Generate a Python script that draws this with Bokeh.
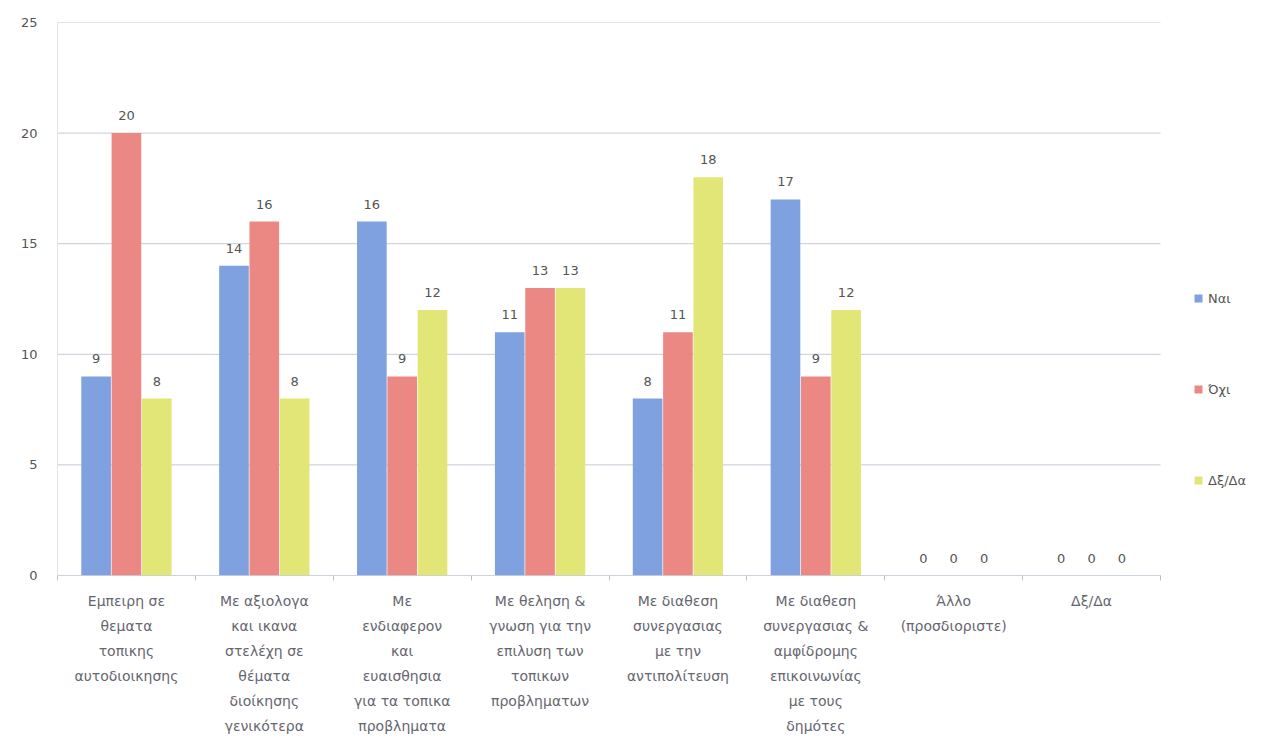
from bokeh.plotting import figure
from bokeh.models import ColumnDataSource, Range1d, FixedTicker, Legend, LegendItem, LinearAxis
from bokeh.embed import file_html
from bokeh.resources import INLINE
from bokeh.core.properties import value

categories = [
    "Εμπειρη σε\nθεματα\nτοπικης\nαυτοδιοικησης",
    "Με αξιολογα\nκαι ικανα\nστελέχη σε\nθέματα\nδιοίκησης\nγενικότερα",
    "Με\nενδιαφερον\nκαι\nευαισθησια\nγια τα τοπικα\nπροβληματα",
    "Με θεληση &\nγνωση για την\nεπιλυση των\nτοπικων\nπροβληματων",
    "Με διαθεση\nσυνεργασιας\nμε την\nαντιπολίτευση",
    "Με διαθεση\nσυνεργασιας &\nαμφίδρομης\nεπικοινωνίας\nμε τους\nδημότες",
    "Άλλο\n(προσδιοριστε)",
    "Δξ/Δα",
]
series_names = ["Ναι", "Όχι", "Δξ/Δα"]
nai = [9, 14, 16, 11, 8, 17, 0, 0]
ochi = [20, 16, 9, 13, 11, 9, 0, 0]
dxda = [8, 8, 12, 13, 18, 12, 0, 0]
y_ticks = [0, 5, 10, 15, 20, 25]

colors = ["#7fa1e0", "#ec8884", "#e2e677"]
offsets = [-0.22, 0.0, 0.22]
bar_w = 0.215
FONT = "DejaVu Sans"
LABEL_COLOR = "#66666f"
NUM_COLOR = "#555555"

n = len(categories)
centers = [i + 0.5 for i in range(n)]

W, H = 1253, 736
left, top, bottom = 57, 22, 161
plot_px = 1103  # width of the category area in pixels
frame_px = W - left
x_end = n * frame_px / plot_px

p = figure(width=W, height=H, output_backend="svg", toolbar_location=None,
           x_range=Range1d(0, x_end), y_range=Range1d(0, 25),
           min_border_left=left, min_border_right=0, min_border_top=top, min_border_bottom=bottom)
p.outline_line_color = None
p.background_fill_color = "white"
p.border_fill_color = "white"

# gridlines limited to the category area
p.xgrid.grid_line_color = None
p.ygrid.grid_line_color = None
p.segment(x0=[0] * len(y_ticks), x1=[n] * len(y_ticks), y0=y_ticks, y1=y_ticks,
          line_color="#c3cbd6", line_width=1)

renderers = []
for vals, col, off, name in zip([nai, ochi, dxda], colors, offsets, series_names):
    src = ColumnDataSource(dict(x=[c + off for c in centers], top=vals, lab=[str(v) for v in vals]))
    r = p.vbar(x="x", top="top", width=bar_w, source=src, fill_color=col, line_color=None)
    renderers.append(r)
    p.text(x="x", y="top", text="lab", source=src, text_align="center", text_baseline="bottom",
           y_offset=-13, text_font=value(FONT), text_font_size="13px", text_color=NUM_COLOR)

# x axis line drawn only over the category area
p.segment(x0=[0], x1=[n], y0=[0], y1=[0], line_color="#b8c2ce", line_width=1)

# category labels: one axis per text line
lines = [c.split("\n") for c in categories]
max_lines = max(len(l) for l in lines)
for k in range(max_lines):
    overrides = {c: (l[k] if k < len(l) else "") for c, l in zip(centers, lines)}
    if k == 0:
        ax = p.xaxis[0]
        ax.ticker = FixedTicker(ticks=centers, minor_ticks=list(range(n + 1)))
        ax.minor_tick_out = 5
        ax.minor_tick_in = 0
        ax.minor_tick_line_color = "#b8c2ce"
        ax.major_label_standoff = 12
    else:
        ax = LinearAxis(ticker=FixedTicker(ticks=centers, minor_ticks=[]))
        ax.minor_tick_line_color = None
        ax.major_label_standoff = 6
        p.add_layout(ax, "below")
    ax.major_label_overrides = overrides
    ax.axis_line_color = None
    ax.major_tick_out = 0
    ax.major_tick_in = 0
    ax.major_label_text_font = FONT
    ax.major_label_text_font_size = "14px"
    ax.major_label_text_color = LABEL_COLOR

p.yaxis.ticker = FixedTicker(ticks=y_ticks)
p.yaxis.major_tick_out = 0
p.yaxis.major_tick_in = 0
p.yaxis.minor_tick_out = 0
p.yaxis.minor_tick_in = 0
p.yaxis.axis_line_color = "#dfe5ec"
p.yaxis.major_label_standoff = 20
p.yaxis.major_label_text_font = FONT
p.yaxis.major_label_text_font_size = "13px"
p.yaxis.major_label_text_color = NUM_COLOR

legend = Legend(items=[LegendItem(label=nm, renderers=[r]) for nm, r in zip(series_names, renderers)],
                location=(1136, 87))
legend.glyph_width = 10
legend.glyph_height = 10
legend.label_height = 16
legend.spacing = 75
legend.padding = 0
legend.margin = 0
legend.label_standoff = 5
legend.border_line_color = None
legend.background_fill_alpha = 0
legend.label_text_font = FONT
legend.label_text_font_size = "13px"
legend.label_text_color = NUM_COLOR
p.add_layout(legend, "center")

open("out.html", "w").write(file_html(p, INLINE))
